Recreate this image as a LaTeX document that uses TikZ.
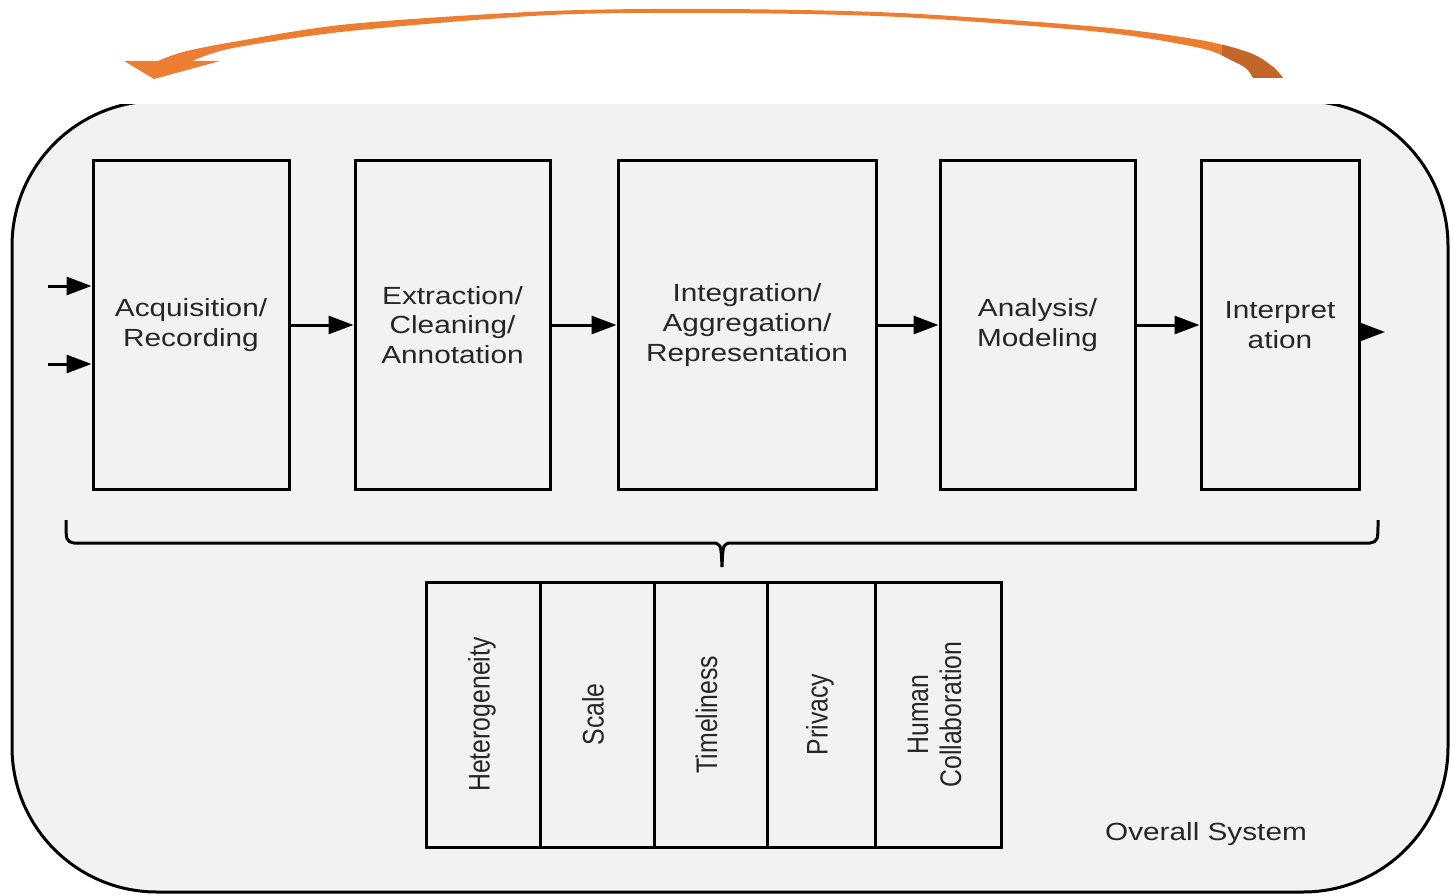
\documentclass[tikz,border=0pt]{standalone}
\usepackage{fontspec}
\setmainfont{Liberation Sans}
\newfontfamily\widesans[FakeStretch=1.2]{Liberation Sans}
\usetikzlibrary{arrows.meta}
\definecolor{panel}{HTML}{F2F2F2}
\definecolor{feedorange}{HTML}{ED7D31}
\definecolor{feeddark}{HTML}{C4652A}
\definecolor{ink}{HTML}{262626}

% outline of the orange feedback arrow (head on the left, base on the right)
\newcommand\feedbackpath{%
  (124,61) -- (154,79) -- (220,61) -- (192,61)
  -- plot[smooth] coordinates {(192,61) (233,48) (350,31) (550,15) (720,13) (900,17) (1100,32) (1200,48) (1233,61) (1247,69) (1253,78)}
  -- (1283,78)
  -- plot[smooth] coordinates {(1283,78) (1273,67) (1250,53) (1200,40) (1100,27) (900,13) (720,9) (550,11) (350,24) (233,42) (183,52) (158,61)}
  -- cycle}

\tikzset{
  stagebox/.style={draw=black, line width=3pt, inner sep=0pt, minimum height=328pt,
    text=ink, align=center, font=\widesans\fontsize{24.8}{29.8}\selectfont},
  factorbox/.style={draw=black, line width=3pt, inner sep=0pt, minimum width=265pt,
    rotate=90, text=ink, font=\fontsize{24.8}{27.5}\selectfont},
  flow/.style={line width=3pt, -{Triangle[length=25pt,width=18pt]}},
  brace/.style={line width=3pt},
}

\newcommand\tallrow[1]{\scalebox{1}[1.2]{\begin{tabular}{@{}c@{}}#1\end{tabular}}}

\begin{document}
\begin{tikzpicture}[x=1pt,y=-1pt]
\useasboundingbox (0,0) rectangle (1451,896);

% overall system panel, its top edge hidden
\begin{scope}
  \clip (0,105) rectangle (1451,896);
  \draw[line width=3pt, fill=panel, rounded corners=145pt] (12,101) rectangle (1448,892);
\end{scope}

% feedback arrow
\fill[feedorange] \feedbackpath;
\begin{scope}
  \clip (1222,0) rectangle (1300,100);
  \fill[feeddark] \feedbackpath;
\end{scope}

% pipeline stages
\node[stagebox, minimum width=196pt] (acq) at (191,325) {Acquisition/\\Recording};
\node[stagebox, minimum width=195pt] (ext) at (452.5,325) {Extraction/\\Cleaning/\\Annotation};
\node[stagebox, minimum width=258pt] (int) at (747,325) {Integration/\\Aggregation/\\Representation};
\node[stagebox, minimum width=195pt] (ana) at (1037.5,325) {Analysis/\\Modeling};
\node[stagebox, minimum width=158pt] (itp) at (1280,325) {Interpret\\ation};

\coordinate (in1) at (48,286);
\coordinate (in2) at (48,364);
\coordinate (out) at (1385,332);

\draw[flow] (in1) -- (in1 -| acq.west);
\draw[flow] (in2) -- (in2 -| acq.west);
\draw[flow] (acq) -- (ext);
\draw[flow] (ext) -- (int);
\draw[flow] (int) -- (ana);
\draw[flow] (ana) -- (itp);
\draw[flow] (out -| itp.east) -- (out);

% brace gathering the stages
\coordinate (tip) at (722,567);
\draw[brace] (66,520) .. controls (66,541) .. (74,543) -- (711,543)
  .. controls (721,543) .. (tip)
  .. controls (723,543) .. (733,543) -- (1370,543)
  .. controls (1378,541) .. (1378,520);

% cross-cutting challenges
\node[factorbox, minimum height=114pt] (het) at (483,714.5) {\tallrow{Heterogeneity}};
\node[factorbox, minimum height=114pt] (scl) at (597,714.5) {\tallrow{Scale}};
\node[factorbox, minimum height=113pt] (tim) at (710.5,714.5) {\tallrow{Timeliness}};
\node[factorbox, minimum height=108pt] (prv) at (821,714.5) {\tallrow{Privacy}};
\node[factorbox, minimum height=126pt] (hum) at (938,714.5) {\tallrow{Human\\Collaboration}};

\node[text=ink, font=\widesans\fontsize{24.8}{29.8}\selectfont] (sys) at (1206,834) {Overall System};
\end{tikzpicture}
\end{document}
